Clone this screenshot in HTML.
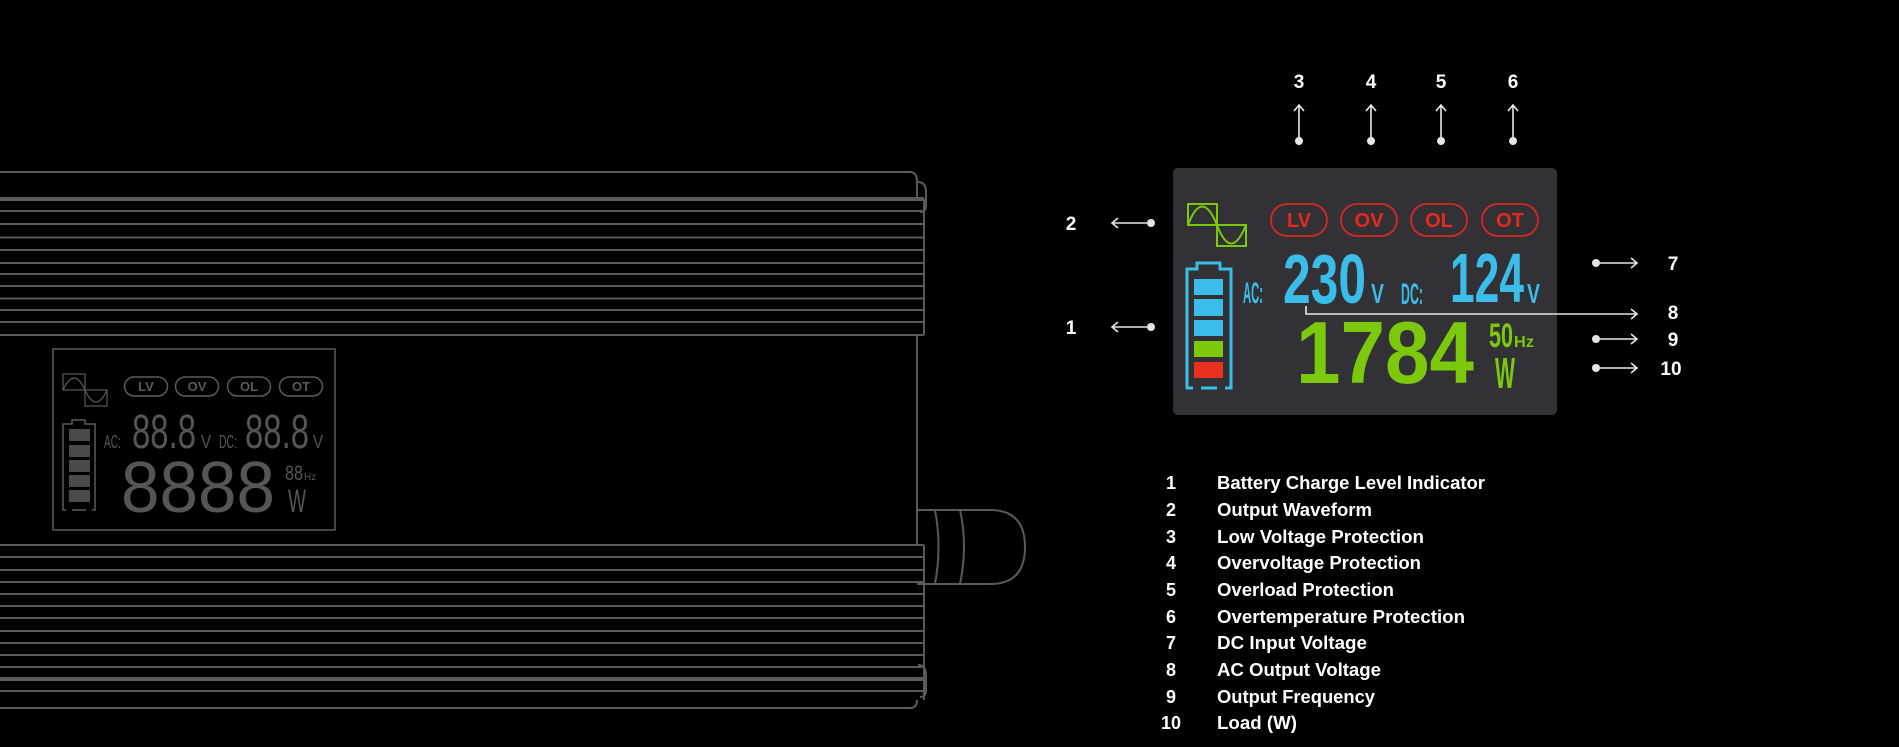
<!DOCTYPE html>
<html><head><meta charset="utf-8"><style>
html,body{margin:0;padding:0;background:#000;}
svg{display:block}
text{font-family:"Liberation Sans",sans-serif;}
</style></head><body>
<svg width="1899" height="747" viewBox="0 0 1899 747" xmlns="http://www.w3.org/2000/svg">
<rect width="1899" height="747" fill="#000"/>
<!-- housing -->
<g stroke="#5a5a5a" stroke-width="2" fill="none">
<path d="M0 172 H910 Q917 172 917 182 V198"/>
<line x1="0" y1="199" x2="924" y2="199" stroke-width="4"/>
<path d="M0 211 H924 M0 224 H924 M0 237.5 H924 M0 250 H924 M0 263 H924 M0 274 H924 M0 286 H924 M0 298.5 H924 M0 310 H924 M0 322 H924 M0 335 H924"/>
<path d="M924 199 V335 M917 335 V545"/>
<path d="M918 182 Q926 182 926 192 V206 Q926 212 920 212"/>
<path d="M0 545 H924 M0 557 H924 M0 570 H924 M0 582 H924 M0 594 H924 M0 606 H924 M0 618 H924 M0 631 H924 M0 643 H924 M0 655 H924 M0 667 H924 M0 691 H924"/>
<line x1="0" y1="679" x2="924" y2="679" stroke-width="4"/>
<path d="M924 545 V700 M0 708 H910 Q917 708 917 700"/>
<path d="M918 665 Q926 665 926 675 V690 Q926 697 920 697"/>
<!-- knob -->
<path d="M917 510 H935 Q942 546 935 584 H917"/>
<path d="M935 510 H960 Q968 546 960 584 H935"/>
<path d="M960 510 H990 Q1025 510 1025 547 Q1025 584 990 584 H960"/>
<!-- small lcd -->
<rect x="53" y="349" width="282" height="181" stroke-width="1.5"/>
<rect x="63" y="374" width="22" height="16" stroke-width="1.2"/>
<rect x="85" y="390" width="22" height="16" stroke-width="1.2"/>
<path d="M63 390 Q74 366 85 390 Q96 414 107 390" stroke-width="1.2"/>
<rect x="124.5" y="377" width="43" height="19" rx="9.5" stroke-width="1.5"/>
<rect x="175.5" y="377" width="43" height="19" rx="9.5" stroke-width="1.5"/>
<rect x="227.5" y="377" width="43" height="19" rx="9.5" stroke-width="1.5"/>
<rect x="279.5" y="377" width="43" height="19" rx="9.5" stroke-width="1.5"/>
<path d="M66 510 H63 V424 H72 V420 H85 V424 H95 V510 H92 M72 510 H86" stroke-width="1.5"/>
</g>
<g fill="#4a4a4a">
<rect x="69" y="429" width="21" height="12"/><rect x="69" y="445" width="21" height="12"/><rect x="69" y="460" width="21" height="12"/><rect x="69" y="475" width="21" height="12"/><rect x="69" y="490" width="21" height="12"/>
</g>
<g fill="#5a5a5a" font-weight="bold" font-size="13" text-anchor="middle">
<text x="146" y="391">LV</text><text x="197" y="391">OV</text><text x="249" y="391">OL</text><text x="301" y="391">OT</text>
</g>
<g fill="#555" font-family="Liberation Mono">
<text x="104" y="448" font-size="18" textLength="17" lengthAdjust="spacingAndGlyphs">AC:</text>
<text x="132" y="448" font-size="48" textLength="64" lengthAdjust="spacingAndGlyphs">88.8</text>
<text x="201" y="448" font-size="18" textLength="10" lengthAdjust="spacingAndGlyphs">V</text>
<text x="219" y="448" font-size="18" textLength="18" lengthAdjust="spacingAndGlyphs">DC:</text>
<text x="245" y="448" font-size="48" textLength="64" lengthAdjust="spacingAndGlyphs">88.8</text>
<text x="313" y="448" font-size="18" textLength="10" lengthAdjust="spacingAndGlyphs">V</text>
<text x="121" y="512" font-size="72" textLength="154" lengthAdjust="spacingAndGlyphs">8888</text>
<text x="285" y="480" font-size="21" textLength="18" lengthAdjust="spacingAndGlyphs">88</text>
<text x="304" y="480" font-size="10">Hz</text>
<text x="288" y="512" font-size="32" textLength="18" lengthAdjust="spacingAndGlyphs">W</text>
</g>

<!-- right LCD -->
<rect x="1173" y="168" width="384" height="247" rx="5" fill="#323236"/>
<g fill="none" stroke="#7cc80a" stroke-width="2">
<rect x="1188" y="204" width="29" height="21"/>
<rect x="1217" y="225" width="29" height="21"/>
<path d="M1188 225 Q1202 188 1217 225 Q1231 262 1246 225"/>
</g>
<g fill="none" stroke="#d8281e" stroke-width="1.8">
<rect x="1271" y="204" width="56" height="32" rx="16"/>
<rect x="1341" y="204" width="56" height="32" rx="16"/>
<rect x="1411" y="204" width="56" height="32" rx="16"/>
<rect x="1482" y="204" width="56" height="32" rx="16"/>
</g>
<g fill="#e8281e" font-weight="bold" font-size="20" text-anchor="middle">
<text x="1299" y="227">LV</text><text x="1369" y="227">OV</text><text x="1439" y="227">OL</text><text x="1510" y="227">OT</text>
</g>
<path d="M1193 388 H1187 V269 H1197 V263 H1220 V269 H1231 V388 H1225 M1201 388 H1217" fill="none" stroke="#3bbdea" stroke-width="3"/>
<rect x="1194" y="279" width="29" height="16" fill="#3bbdea"/>
<rect x="1194" y="299" width="29" height="17" fill="#3bbdea"/>
<rect x="1194" y="320" width="29" height="16" fill="#3bbdea"/>
<rect x="1194" y="341" width="29" height="16" fill="#7cc80a"/>
<rect x="1194" y="362" width="29" height="16" fill="#e8321e"/>
<g fill="#3bbdea" font-family="Liberation Mono" font-weight="bold">
<text x="1243" y="303" font-size="30" textLength="20" lengthAdjust="spacingAndGlyphs">AC:</text>
<text x="1283" y="303" font-size="70" textLength="83" lengthAdjust="spacingAndGlyphs">230</text>
<text x="1371" y="303" font-size="28" textLength="13" lengthAdjust="spacingAndGlyphs">V</text>
<text x="1401" y="304" font-size="30" textLength="22" lengthAdjust="spacingAndGlyphs">DC:</text>
<text x="1450" y="302" font-size="70" textLength="74" lengthAdjust="spacingAndGlyphs">124</text>
<text x="1527" y="303" font-size="28" textLength="13" lengthAdjust="spacingAndGlyphs">V</text>
</g>
<g fill="#7cc80a" font-family="Liberation Mono" font-weight="bold">
<text x="1296" y="383" font-size="88" textLength="178" lengthAdjust="spacingAndGlyphs">1784</text>
<text x="1489" y="347" font-size="34" textLength="24" lengthAdjust="spacingAndGlyphs">50</text>
<text x="1514" y="347" font-size="16" textLength="20" lengthAdjust="spacingAndGlyphs">Hz</text>
<text x="1495" y="388" font-size="44" textLength="20" lengthAdjust="spacingAndGlyphs">W</text>
</g>

<!-- callouts -->
<g stroke="#e6e6e6" stroke-width="1.6" fill="none">
<path d="M1299 141 V105 M1294 111 L1299 105 L1304 111"/>
<path d="M1371 141 V105 M1366 111 L1371 105 L1376 111"/>
<path d="M1441 141 V105 M1436 111 L1441 105 L1446 111"/>
<path d="M1513 141 V105 M1508 111 L1513 105 L1518 111"/>
<path d="M1151 223 H1112 M1118 218 L1112 223 L1118 228"/>
<path d="M1151 327 H1112 M1118 322 L1112 327 L1118 332"/>
<path d="M1596 263 H1637 M1631 258 L1637 263 L1631 268"/>
<path d="M1306 306 V314 H1637 M1631 309 L1637 314 L1631 319"/>
<path d="M1596 339 H1637 M1631 334 L1637 339 L1631 344"/>
<path d="M1596 368 H1637 M1631 363 L1637 368 L1631 373"/>
</g>
<g fill="#e6e6e6">
<circle cx="1299" cy="141" r="4"/><circle cx="1371" cy="141" r="4"/><circle cx="1441" cy="141" r="4"/><circle cx="1513" cy="141" r="4"/>
<circle cx="1151" cy="223" r="4"/><circle cx="1151" cy="327" r="4"/>
<circle cx="1596" cy="263" r="4"/><circle cx="1596" cy="339" r="4"/><circle cx="1596" cy="368" r="4"/>
</g>
<g fill="#fff" font-size="19" font-weight="bold" text-anchor="middle">
<text x="1299" y="88">3</text><text x="1371" y="88">4</text><text x="1441" y="88">5</text><text x="1513" y="88">6</text>
<text x="1071" y="230">2</text><text x="1071" y="334">1</text>
<text x="1673" y="270">7</text><text x="1673" y="319">8</text><text x="1673" y="346">9</text><text x="1671" y="375">10</text>
</g>

<!-- legend -->
<g fill="#fff" font-size="18" font-weight="bold">
<g text-anchor="middle">
<text x="1171" y="489">1</text><text x="1171" y="516">2</text><text x="1171" y="543">3</text><text x="1171" y="569">4</text><text x="1171" y="596">5</text><text x="1171" y="623">6</text><text x="1171" y="649">7</text><text x="1171" y="676">8</text><text x="1171" y="703">9</text><text x="1171" y="729">10</text>
</g>
<text x="1217" y="489" textLength="268" lengthAdjust="spacingAndGlyphs">Battery Charge Level Indicator</text>
<text x="1217" y="516" textLength="155" lengthAdjust="spacingAndGlyphs">Output Waveform</text>
<text x="1217" y="543" textLength="207" lengthAdjust="spacingAndGlyphs">Low Voltage Protection</text>
<text x="1217" y="569" textLength="204" lengthAdjust="spacingAndGlyphs">Overvoltage Protection</text>
<text x="1217" y="596" textLength="177" lengthAdjust="spacingAndGlyphs">Overload Protection</text>
<text x="1217" y="623" textLength="248" lengthAdjust="spacingAndGlyphs">Overtemperature Protection</text>
<text x="1217" y="649" textLength="150" lengthAdjust="spacingAndGlyphs">DC Input Voltage</text>
<text x="1217" y="676" textLength="164" lengthAdjust="spacingAndGlyphs">AC Output Voltage</text>
<text x="1217" y="703" textLength="158" lengthAdjust="spacingAndGlyphs">Output Frequency</text>
<text x="1217" y="729" textLength="80" lengthAdjust="spacingAndGlyphs">Load (W)</text>
</g>
</svg>
</body></html>
